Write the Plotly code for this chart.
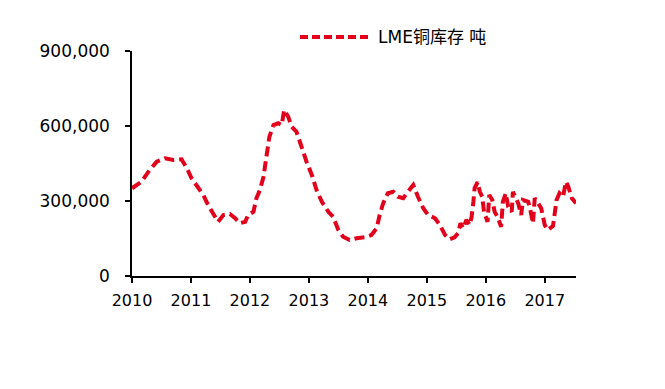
import plotly.graph_objects as go

# Decimal-year dates and LME copper inventory (tonnes)
dates = [2010.00, 2010.16, 2010.30, 2010.42, 2010.56, 2010.70, 2010.84, 2010.93,
         2011.01, 2011.12, 2011.21, 2011.29, 2011.38, 2011.46, 2011.55, 2011.66,
         2011.75, 2011.83, 2011.92, 2011.97, 2012.06, 2012.11, 2012.17, 2012.23,
         2012.28, 2012.33, 2012.40, 2012.48, 2012.54, 2012.58, 2012.65, 2012.71,
         2012.79, 2012.88, 2012.96, 2013.05, 2013.13, 2013.22, 2013.33, 2013.41,
         2013.50, 2013.58, 2013.69, 2013.81, 2013.95, 2014.06, 2014.15, 2014.20,
         2014.26, 2014.34, 2014.43, 2014.51, 2014.60, 2014.68, 2014.77, 2014.85,
         2014.94, 2015.02, 2015.14, 2015.22, 2015.31, 2015.39, 2015.47, 2015.53,
         2015.57, 2015.62, 2015.67, 2015.73, 2015.76, 2015.79, 2015.81, 2015.86,
         2015.90, 2015.94, 2015.97, 2016.03, 2016.06, 2016.11, 2016.15, 2016.20,
         2016.26, 2016.29, 2016.34, 2016.38, 2016.44, 2016.46, 2016.52, 2016.55,
         2016.60, 2016.63, 2016.72, 2016.75, 2016.80, 2016.83, 2016.89, 2016.94,
         2017.00, 2017.05, 2017.14, 2017.17, 2017.20, 2017.25, 2017.31, 2017.36,
         2017.40, 2017.46, 2017.53]
values = [351000, 377000, 424000, 457000, 471000, 464000, 467000, 431000,
          391000, 357000, 324000, 284000, 251000, 217000, 244000, 248000,
          231000, 211000, 217000, 244000, 257000, 311000, 344000, 397000,
          477000, 557000, 604000, 611000, 604000, 664000, 637000, 597000,
          577000, 511000, 457000, 404000, 344000, 297000, 257000, 237000,
          184000, 157000, 144000, 151000, 155000, 164000, 191000, 244000,
          291000, 331000, 337000, 317000, 311000, 337000, 364000, 317000,
          271000, 244000, 231000, 204000, 164000, 147000, 155000, 171000,
          211000, 191000, 224000, 204000, 237000, 297000, 351000, 375000,
          337000, 317000, 257000, 217000, 324000, 304000, 257000, 237000,
          197000, 297000, 331000, 277000, 257000, 337000, 311000, 291000,
          244000, 304000, 297000, 271000, 211000, 311000, 291000, 271000,
          204000, 184000, 200000, 244000, 304000, 331000, 317000, 377000,
          357000, 311000, 291000]

year_ticks = [2010, 2011, 2012, 2013, 2014, 2015, 2016, 2017]
year_labels = ["2010", "2011", "2012", "2013", "2014", "2015", "2016", "2017"]
y_ticks = [0, 300000, 600000, 900000]
y_labels = ["0", "300,000", "600,000", "900,000"]
series_name = "LME铜库存 吨"

RED = "#E3001B"
FONT = "DejaVu Sans, Noto Sans CJK SC, sans-serif"

fig = go.Figure()
fig.add_trace(go.Scatter(
    x=dates, y=values, mode="lines", name=series_name,
    line=dict(color=RED, width=4, dash="10px,5px"),
    showlegend=False,
))

# Manual legend (plot area spans 444 x 225 px)
ly = (268 - 29) / 225
fig.add_shape(type="line", xref="paper", yref="paper",
              x0=(300 - 132) / 444, x1=(371 - 132) / 444, y0=ly, y1=ly,
              line=dict(color=RED, width=4, dash="8px,4px"))
fig.add_annotation(xref="paper", yref="paper", x=(376 - 132) / 444, y=ly,
                   text=series_name, showarrow=False, xanchor="left", yanchor="middle",
                   font=dict(size=17, color="#000000", family=FONT))

fig.update_layout(
    width=657, height=381,
    margin=dict(l=124, r=89, t=43, b=113, autoexpand=False),
    paper_bgcolor="white", plot_bgcolor="white",
    font=dict(family=FONT, size=16, color="#000000"),
)
fig.update_xaxes(
    range=[2010, 2017.53], tickvals=year_ticks, ticktext=year_labels,
    showgrid=False, zeroline=False, showline=True, linecolor="black", linewidth=1.5,
    ticks="outside", ticklen=5, tickwidth=1.5, tickcolor="black",
    tickfont=dict(size=16, family=FONT), ticklabelstandoff=4,
)
fig.update_yaxes(
    range=[0, 900000], tickvals=y_ticks, ticktext=y_labels,
    showgrid=False, zeroline=False, showline=True, linecolor="black", linewidth=1.5,
    ticks="outside", ticklen=5, tickwidth=1.5, tickcolor="black",
    tickfont=dict(size=17, family=FONT), ticklabelstandoff=12,
)

fig.write_html("out.html")
